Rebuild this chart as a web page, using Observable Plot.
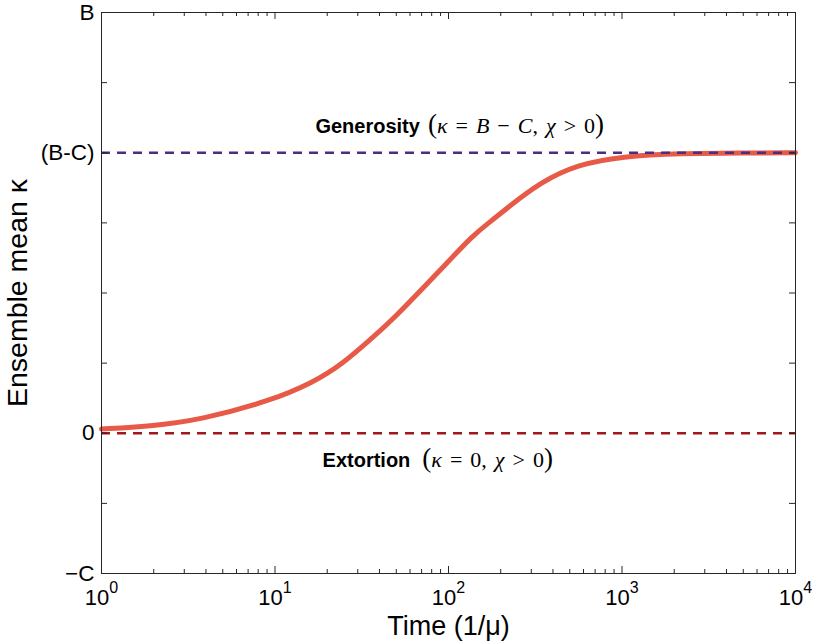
<!DOCTYPE html>
<html><head><meta charset="utf-8">
<script src="https://cdn.jsdelivr.net/npm/d3@7"></script>
<script src="https://cdn.jsdelivr.net/npm/@observablehq/plot@0.6"></script>
<style>body{margin:0;background:#fff}</style>
</head><body><div id="chart"></div>
<script>
// ---- data ----
const timeValues = [1, 1.9, 3.7, 9.4, 16.7, 24, 37, 46, 90, 139, 175, 220, 340, 550, 1000, 2200, 5000, 10000];
const meanKappa  = [0.06, 0.1, 0.19, 0.46, 0.73, 0.97, 1.38, 1.58, 2.33, 2.83, 3.02, 3.22, 3.58, 3.83, 3.95, 3.99, 3.995, 4.0];

const kappaTicks = [-2, -1, 0, 1, 2, 3, 4, 5, 6];        // B = 6, C = 2 (arbitrary units)
const kappaLabelValues = [-2, 0, 4, 6];
const kappaLabelTexts = ["\u2212C", "0", "(B-C)", "B"];
const timeDecades = [1, 10, 100, 1000, 10000];
const minorMultipliers = [2, 3, 4, 5, 6, 7, 8, 9];

const strategyNames = ["Generosity", "Extortion"];
const strategyLevels = [4, 0];
const strategyColors = ["#4b2e7e", "#a3161c"];
const annotationTime = [17.1, 18.8];
const annotationKappa = [4.28, -0.48];
const annotationMath = [
  [["(", "p"], ["\u03ba", "i"], [" = ", ""], ["B", "i"], [" \u2212 ", ""], ["C", "i"], [", ", ""], ["\u03c7", "i"], [" > 0", ""], [")", "p"]],
  [["(", "p"], ["\u03ba", "i"], [" = 0, ", ""], ["\u03c7", "i"], [" > 0", ""], [")", "p"]]
];

// ---- layout ----
const W = 815, H = 643, mL = 101, mR = 20, mT = 12, mB = 70;
const plotW = W - mL - mR, plotH = H - mT - mB;
const decadePx = plotW / 4;
const yUnitsPerPx = (kappaTicks[kappaTicks.length - 1] - kappaTicks[0]) / plotH;
const xf = px => Math.pow(10, px / decadePx);
const yl = px => px * yUnitsPerPx;

const curve = timeValues.map((t, i) => ({t, k: meanKappa[i]}));
const timeMinor = timeDecades.slice(0, -1).flatMap(d => minorMultipliers.map(m => m * d));
const yMin = kappaTicks[0], yMax = kappaTicks[kappaTicks.length - 1];
const xMin = timeDecades[0], xMax = timeDecades[timeDecades.length - 1];
const annotations = strategyNames.map((n, i) => ({n, t: annotationTime[i], k: annotationKappa[i]}));
const levels = strategyLevels.map((v, i) => ({v, c: strategyColors[i]}));

const frameColor = "#262626";
const svg = Plot.plot({
  width: W, height: H,
  marginLeft: mL, marginRight: mR, marginTop: mT, marginBottom: mB,
  style: {fontFamily: "'Liberation Sans', Arial, sans-serif", background: "white", color: "black"},
  x: {type: "log", domain: [xMin, xMax]},
  y: {domain: [yMin, yMax]},
  marks: [
    Plot.line(curve, {x: "t", y: "k", stroke: "#e85a48", strokeWidth: 5, curve: "basis"}),
    Plot.ruleY(levels, {y: "v", stroke: "c", strokeWidth: 2.6, strokeDasharray: "9,7"}),
    Plot.frame({stroke: frameColor, strokeWidth: 1}),
    // inward ticks: y on left & right
    Plot.ruleY(kappaTicks, {y: d => d, x1: xMin, x2: xMin * xf(6), stroke: frameColor}),
    Plot.ruleY(kappaTicks, {y: d => d, x1: xMax / xf(6), x2: xMax, stroke: frameColor}),
    // inward ticks: x on bottom & top (major and minor)
    Plot.ruleX(timeDecades, {x: d => d, y1: yMin, y2: yMin + yl(7), stroke: frameColor}),
    Plot.ruleX(timeDecades, {x: d => d, y1: yMax - yl(7), y2: yMax, stroke: frameColor}),
    Plot.ruleX(timeMinor, {x: d => d, y1: yMin, y2: yMin + yl(4), stroke: frameColor}),
    Plot.ruleX(timeMinor, {x: d => d, y1: yMax - yl(4), y2: yMax, stroke: frameColor}),
    Plot.axisX(timeDecades, {tickSize: 0, tickPadding: 16, fontSize: 22, label: null,
      tickFormat: d => "10^" + Math.round(Math.log10(d))}),
    Plot.axisY(kappaLabelValues, {tickSize: 0, tickPadding: 7, fontSize: 22.5, label: null,
      tickFormat: d => kappaLabelTexts[kappaLabelValues.indexOf(d)]}),
    Plot.text(["Ensemble mean \u03ba"], {frameAnchor: "left", textAnchor: "middle", rotate: -90, dx: -84, fontSize: 28.5, fill: "black"}),
    Plot.text(["Time (1/\u03bc)"], {frameAnchor: "bottom", dy: 61, fontSize: 27, fill: "black"}),
    Plot.text(annotations, {x: "t", y: "k", text: "n", textAnchor: "start", lineAnchor: "bottom", fontSize: 20, fontWeight: "bold", fill: "black"})
  ]
});

// ---- rich text post-processing (superscripts and math) ----
const NS = "http://www.w3.org/2000/svg";
function ts(parent, txt, attrs) {
  const el = document.createElementNS(NS, "tspan");
  for (const [k, v] of Object.entries(attrs || {})) el.setAttribute(k, v);
  if (txt != null) el.textContent = txt;
  parent.appendChild(el);
  return el;
}
svg.querySelectorAll("text").forEach(t => {
  const s = t.textContent;
  const m = /^10\^(\d+)$/.exec(s);
  if (m) {
    t.textContent = "";
    ts(t, "10");
    ts(t, m[1], {"font-size": 16, dy: -12});
    return;
  }
  const idx = strategyNames.indexOf(s);
  if (idx >= 0) {
    t.textContent = "";
    ts(t, s);
    const math = ts(t, null, {"font-family": "'Liberation Serif', 'Times New Roman', serif", "font-weight": "normal", "font-size": 22, "word-spacing": "2.5px"});
    ts(math, " ", idx === 0 ? {} : {dx: 4});
    for (const [str, kind] of annotationMath[idx]) {
      if (kind === "p") ts(math, str, {"font-size": 27});
      else if (kind === "i") ts(math, str, {"font-style": "italic"});
      else ts(math, str);
    }
  }
});
document.getElementById("chart").appendChild(svg);
</script>
</body></html>
